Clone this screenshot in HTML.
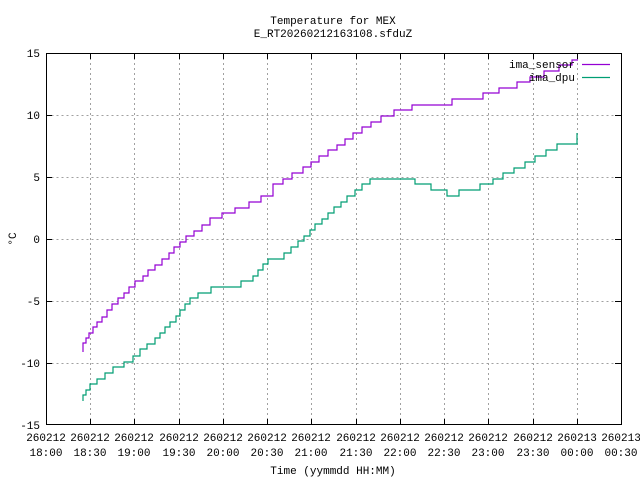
<!DOCTYPE html>
<html><head><meta charset="utf-8"><style>
html,body{margin:0;padding:0;background:#fff;}
svg{display:block;}
text{font-family:"Liberation Mono","DejaVu Sans Mono",monospace;font-size:11px;fill:#000;}
</style></head><body>
<svg width="640" height="480" viewBox="0 0 640 480" xmlns="http://www.w3.org/2000/svg">
<rect width="640" height="480" fill="#fff"/>
<g stroke="#a0a0a0" stroke-width="1" stroke-dasharray="2,3" fill="none">
<path d="M46.5 115.5H621M46.5 177.5H621M46.5 239.5H621M46.5 301.5H621M46.5 363.5H621"/>
<path d="M90.5 53V425M134.5 53V425M179.5 53V425M223.5 53V425M267.5 53V425M311.5 53V425M356.5 53V425M400.5 53V425M444.5 53V425M488.5 53V425M533.5 53V425M577.5 53V425"/>
</g>
<g stroke="#000" stroke-width="1" fill="none">
<rect x="46.5" y="53.5" width="575" height="371"/>
<path d="M46 115.5h6M46 177.5h6M46 239.5h6M46 301.5h6M46 363.5h6M621 115.5h-6M621 177.5h-6M621 239.5h-6M621 301.5h-6M621 363.5h-6"/>
<path d="M90.5 425v-6M134.5 425v-6M179.5 425v-6M223.5 425v-6M267.5 425v-6M311.5 425v-6M356.5 425v-6M400.5 425v-6M444.5 425v-6M488.5 425v-6M533.5 425v-6M577.5 425v-6"/>
<path d="M90.5 53v6M134.5 53v6M179.5 53v6M223.5 53v6M267.5 53v6M311.5 53v6M356.5 53v6M400.5 53v6M444.5 53v6M488.5 53v6M533.5 53v6M577.5 53v6"/>
</g>
<g text-anchor="end">
<text x="40" y="57">15</text><text x="40" y="119">10</text><text x="40" y="181">5</text><text x="40" y="243">0</text><text x="40" y="305">-5</text><text x="40" y="367">-10</text><text x="40" y="429">-15</text>
</g>
<g text-anchor="middle">
<text x="46" y="441">260212</text><text x="46" y="456">18:00</text>
<text x="90" y="441">260212</text><text x="90" y="456">18:30</text>
<text x="134" y="441">260212</text><text x="134" y="456">19:00</text>
<text x="179" y="441">260212</text><text x="179" y="456">19:30</text>
<text x="223" y="441">260212</text><text x="223" y="456">20:00</text>
<text x="267" y="441">260212</text><text x="267" y="456">20:30</text>
<text x="311" y="441">260212</text><text x="311" y="456">21:00</text>
<text x="356" y="441">260212</text><text x="356" y="456">21:30</text>
<text x="400" y="441">260212</text><text x="400" y="456">22:00</text>
<text x="444" y="441">260212</text><text x="444" y="456">22:30</text>
<text x="488" y="441">260212</text><text x="488" y="456">23:00</text>
<text x="533" y="441">260212</text><text x="533" y="456">23:30</text>
<text x="577" y="441">260213</text><text x="577" y="456">00:00</text>
<text x="621" y="441">260213</text><text x="621" y="456">00:30</text>
<text x="333" y="24">Temperature for MEX</text>
<text x="333" y="37">E_RT20260212163108.sfduZ</text>
<text x="333" y="474">Time (yymmdd HH:MM)</text>
<text x="0" y="0" transform="translate(16,239) rotate(-90)">°C</text>
</g>
<path fill="none" stroke="#9400d3" stroke-width="1.2" d="M83 352V343H86V338H89V333H93V327H97V322H102V317H107V310H112V304H118V298H124V293H129V287H135V281H143V276H148V270H155V265H162V259H169V253H174V247H180V242H186V236H194V231H202V225H210V218H222V213H235V208H249V202H261V196H273V190H273V184H283V179H292V173H303V167H311V162H319V156H328V150H337V145H345V139H353V133H362V127H371V122H381V116H394V110H412V105H452V99H455V99H483V93H499V88H517V82H530V77H544V71H559V65H572V60H578V60"/>
<path fill="none" stroke="#009e73" stroke-width="1.2" d="M83 401V395H86V390H90V384H97V379H105V373H113V367H124V362H133V356H140V349H147V344H155V338H160V333H165V327H170V322H176V316H180V310H185V304H190V298H198V293H211V287H241V281H253V276H258V270H263V264H268V259H278V259H284V253H291V247H298V241H304V236H310V230H315V224H322V219H328V213H334V207H341V202H347V196H355V190H362V184H370V179H415V184H431V190H447V196H459V190H480V184H493V179H503V173H514V168H525V162H535V156H546V150H557V144H577V133"/>
<text x="575" y="68" text-anchor="end">ima_sensor</text>
<path d="M582 64.5H610" stroke="#9400d3" stroke-width="1.2"/>
<text x="575" y="81" text-anchor="end">ima_dpu</text>
<path d="M582 77.5H610" stroke="#009e73" stroke-width="1.2"/>
</svg>
</body></html>
